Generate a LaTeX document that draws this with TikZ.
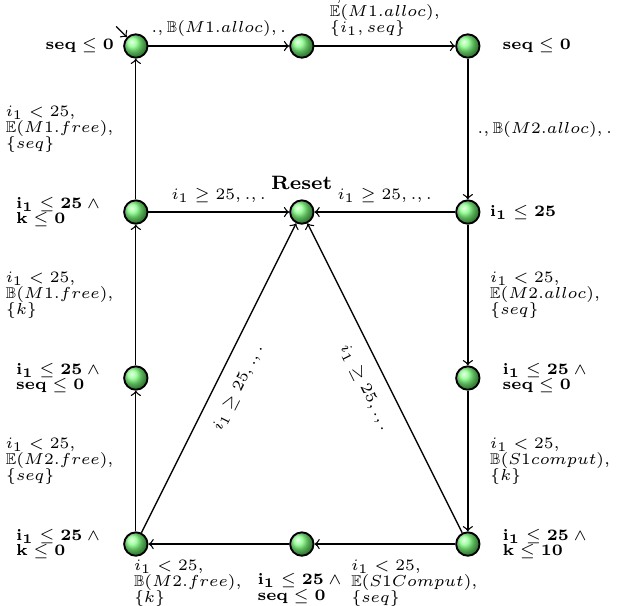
\documentclass[tikz,border=0pt]{standalone}
\usepackage{amsmath,amssymb}
\usetikzlibrary{positioning}
\begin{document}
\begin{tikzpicture}[
  loc/.style={circle,draw,line width=0.7pt,shading=ball,ball color=green!50!white,
              minimum size=0.31cm,inner sep=0pt},
  inv/.style={font={\fontsize{5.6}{6}\selectfont\lineskiplimit=-5pt},align=left},
  elab/.style={font={\fontsize{5.9}{6}\selectfont\lineskiplimit=-5pt},align=left},
  arrow/.style={->,line width=0.5pt}]
\useasboundingbox (-1.80,-7.42) rectangle (6.39,0.61);
\node[loc] (q0)    at (0,0)      {};
\node[loc] (q1)    at (2.2,0)    {};
\node[loc] (q2)    at (4.4,0)    {};
\node[loc] (q9)    at (0,-2.2)   {};
\node[loc] (reset) at (2.2,-2.2) {};
\node[loc] (q3)    at (4.4,-2.2) {};
\node[loc] (q8)    at (0,-4.4)   {};
\node[loc] (q4)    at (4.4,-4.4) {};
\node[loc] (q7)    at (0,-6.6)   {};
\node[loc] (q6)    at (2.2,-6.6) {};
\node[loc] (q5)    at (4.4,-6.6) {};
\coordinate (init) at (-0.26,0.26);
\node[inv,left=0pt of q0]     (l0) {$\mathbf{seq \leq 0}$};
\node[inv,right=0.17cm of q2] (l2) {$\mathbf{seq \leq 0}$};
\node[inv,right=0pt of q3]    (l3) {$\mathbf{i_1 \leq 25}$};
\node[inv,right=0.17cm of q4] (l4) {$\mathbf{i_1 \leq 25} \wedge {}$\\$\mathbf{seq \leq 0}$};
\node[inv,right=0.17cm of q5] (l5) {$\mathbf{i_1 \leq 25} \wedge {}$\\$\mathbf{k \leq 10}$};
\node[inv,below=0.1cm of q6]  (l6) {$\mathbf{i_1 \leq 25} \wedge {}$\\$\mathbf{seq \leq 0}$};
\node[inv,left=0.12cm of q7]  (l7) {$\mathbf{i_1 \leq 25} \wedge {}$\\$\mathbf{k \leq 0}$};
\node[inv,left=0.12cm of q8]  (l8) {$\mathbf{i_1 \leq 25} \wedge {}$\\$\mathbf{seq \leq 0}$};
\node[inv,left=0.12cm of q9]  (l9) {$\mathbf{i_1 \leq 25} \wedge {}$\\$\mathbf{k \leq 0}$};
\node[font={\fontsize{7.3}{8}\selectfont\bfseries},above=0pt of reset] (lr) {Reset};
\draw[arrow] (init) -- (q0);
\draw[arrow] (q0) -- node[elab,above] (e01) {$.,\mathbb{B}(M1.alloc),.$} (q1);
\draw[arrow] (q1) -- node[elab,above] (e12) {$.,$\\$\mathbb{E}(M1.alloc),$\\$\{i_1,seq\}$} (q2);
\draw[arrow] (q2) -- node[elab,right] (e23) {$.,\mathbb{B}(M2.alloc),.$} (q3);
\draw[arrow] (q3) -- node[elab,above] (e3r) {$i_1 \geq 25,.,.$} (reset);
\draw[arrow] (q9) -- node[elab,above] (e9r) {$i_1 \geq 25,.,.$} (reset);
\draw[arrow] (q3) -- node[elab,right=0.17cm] (e34) {$i_1<25,$\\$\mathbb{E}(M2.alloc),$\\$\{seq\}$} (q4);
\draw[arrow] (q4) -- node[elab,right=0.17cm] (e45) {$i_1<25,$\\$\mathbb{B}(S1comput),$\\$\{k\}$} (q5);
\draw[arrow] (q5) -- node[elab,pos=0.29,below=0.09cm] (e56) {$i_1<25,$\\$\mathbb{E}(S1Comput),$\\$\{seq\}$} (q6);
\draw[arrow] (q6) -- node[elab,pos=0.72,below=0.09cm] (e67) {$i_1<25,$\\$\mathbb{B}(M2.free),$\\$\{k\}$} (q7);
\draw[arrow] (q7) -- node[elab,left=0.17cm] (e78) {$i_1<25,$\\$\mathbb{E}(M2.free),$\\$\{seq\}$} (q8);
\draw[arrow] (q8) -- node[elab,left=0.17cm] (e89) {$i_1<25,$\\$\mathbb{B}(M1.free),$\\$\{k\}$} (q9);
\draw[arrow] (q9) -- node[elab,left=0.17cm] (e90) {$i_1<25,$\\$\mathbb{E}(M1.free),$\\$\{seq\}$} (q0);
\draw[arrow] (q7) -- node[elab,sloped,below=2pt] (e7r) {$i_1 \geq 25,.,.$} (reset);
\draw[arrow] (q5) -- node[elab,sloped,below=2pt] (e5r) {$i_1 \geq 25,.,.$} (reset);
\end{tikzpicture}
\end{document}
